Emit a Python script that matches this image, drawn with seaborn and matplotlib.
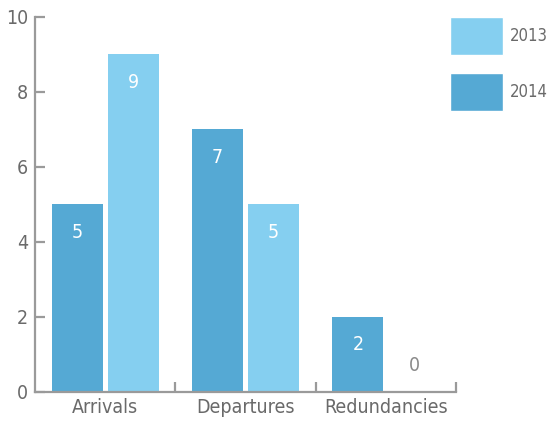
import matplotlib
matplotlib.use("Agg")
import matplotlib.pyplot as plt
import seaborn as sns
import pandas as pd
from matplotlib.patches import Patch
from matplotlib.ticker import FixedLocator

categories = ["Arrivals", "Departures", "Redundancies"]
years = ["2014", "2013"]
values_2014 = [5, 7, 2]
values_2013 = [9, 5, 0]
yticks = [0, 2, 4, 6, 8, 10]

colors = {"2014": "#55a9d4", "2013": "#85cff0"}

df = pd.DataFrame({
    "category": categories * 2,
    "year": ["2014"] * 3 + ["2013"] * 3,
    "value": values_2014 + values_2013,
})

sns.set_style("white")
plt.rcParams["font.family"] = ["DejaVu Sans"]
plt.rcParams["font.stretch"] = "condensed"

fig = plt.figure(figsize=(5.47, 4.23), dpi=100)
ax = fig.add_axes([0.064, 0.0733, 0.770, 0.8867])

sns.barplot(data=df, x="category", y="value", hue="year", order=categories,
            hue_order=years, palette=colors, width=0.8, gap=0.09,
            saturation=1, ax=ax, legend=False, edgecolor="none", linewidth=0)

ax.set_xlim(-0.5, 2.5)
ax.set_ylim(0, 10)
ax.set_yticks(yticks)
ax.set_xlabel("")
ax.set_ylabel("")

grey = "#9a9a9a"
txt = "#6a6a6a"
for s in ["top", "right"]:
    ax.spines[s].set_visible(False)
for s in ["left", "bottom"]:
    ax.spines[s].set_color(grey)
    ax.spines[s].set_linewidth(1.6)

ax.tick_params(axis="y", left=True, direction="in", length=7, width=1.6,
               color=grey, labelsize=14, labelcolor=txt, pad=5)
ax.tick_params(axis="x", which="major", bottom=False, length=0,
               labelsize=14, labelcolor=txt, pad=4)
ax.xaxis.set_minor_locator(FixedLocator([0.5, 1.5, 2.5]))
ax.tick_params(axis="x", which="minor", bottom=True, direction="in",
               length=7, width=1.6, color=grey)

for p in ax.patches:
    h = p.get_height()
    xc = p.get_x() + p.get_width() / 2
    if h > 0:
        ax.annotate(f"{h:g}", xy=(xc, h), xytext=(0, -20),
                    textcoords="offset points", ha="center", va="center",
                    color="white", fontsize=14)
    else:
        ax.annotate(f"{h:g}", xy=(xc, 0), xytext=(0, 19),
                    textcoords="offset points", ha="center", va="center",
                    color="#8a8a8a", fontsize=14)

handles = [Patch(facecolor=colors["2013"], label="2013"),
           Patch(facecolor=colors["2014"], label="2014")]
fig.legend(handles=handles, loc="upper left", bbox_to_anchor=(0.822, 0.96),
           frameon=False, fontsize=12, labelcolor=txt,
           handlelength=3.2, handleheight=3.13, labelspacing=1.08,
           handletextpad=0.4, borderaxespad=0, borderpad=0)

fig.savefig("out.png", dpi=100)
